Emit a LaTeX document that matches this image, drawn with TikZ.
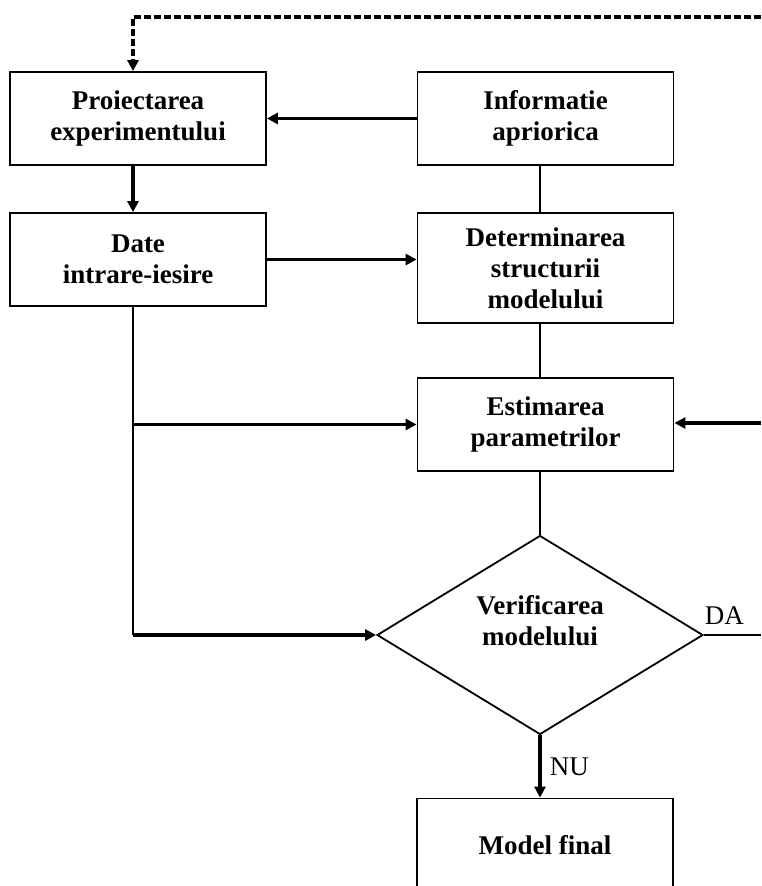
\documentclass[tikz,border=0pt]{standalone}
\usepackage{fontspec}
\setmainfont{Liberation Serif}
\usetikzlibrary{arrows.meta, shapes.geometric}

\begin{document}
\begin{tikzpicture}[x=1pt, y=-1pt,
    box/.style={draw, line width=1.8pt, minimum width=256pt, minimum height=93pt, align=center, font=\bfseries\fontsize{27}{31}\selectfont},
    arr/.style={line width=3.3pt, -{Triangle[length=11pt,width=11pt]}},
    ln/.style={line width=1.8pt},
    lbl/.style={font=\fontsize{27}{31}\selectfont}]
    \useasboundingbox (0,0) rectangle (761,886);

    % boxes
    \node[box] (proiect) at (138,118.5) {Proiectarea\\experimentului};
    \node[box] (info) at (545.5,118.5) {Informatie\\apriorica};
    \node[box] (date) at (138,259.5) {Date\\intrare-iesire};
    \node[box, minimum height=110pt] (det) at (545.5,268) {Determinarea\\structurii\\modelului};
    \node[box] (est) at (545.5,424.5) {Estimarea\\parametrilor};
    \node[box, shape=diamond, shape aspect=1.64, minimum width=326pt, minimum height=199pt, inner sep=0pt, text depth=30pt] (verif) at (540,635) {Verificarea\\modelului};
    \node[box] (model) at (545,845) {Model final};

    \coordinate (spine) at (540,0);
    \coordinate (lspine) at (133,0);
    \coordinate (fbtop) at (761,17);
    \coordinate (fbin) at (761,423);
    \coordinate (daout) at (761,635);

    % connectors
    \draw[arr] (info.west) -- (proiect.east);
    \draw[arr] (proiect.south -| lspine) -- (date.north -| lspine);
    \draw[arr] (date.east) -- (det.west |- date.east);
    \draw[ln] (info.south -| spine) -- (det.north -| spine);
    \draw[ln] (det.south -| spine) -- (est.north -| spine);
    \draw[ln] (est.south -| spine) -- (verif.north);
    \draw[arr] (verif.south) -- node[lbl, right=5pt] {NU} (model.north -| spine);
    \draw[ln] (verif.east) -- node[lbl, above=6pt, xshift=-8pt] {DA} (daout);
    \draw[arr] (fbin) -- (est.east |- fbin);
    \draw[arr, dash pattern=on 7pt off 3pt] (fbtop) -| (proiect.north -| lspine);

    % left feed line
    \draw[ln] (date.south -| lspine) -- (verif.west -| lspine);
    \draw[arr] (est.west -| lspine) -- (est.west);
    \draw[arr] (verif.west -| lspine) -- (verif.west);
\end{tikzpicture}
\end{document}
